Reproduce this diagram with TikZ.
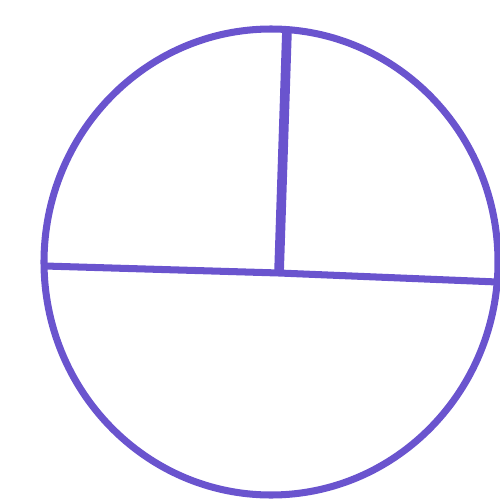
\documentclass[tikz,border=0pt]{standalone}
\usepackage{tikz}
\definecolor{pen}{RGB}{106,84,206}
\begin{document}
\begin{tikzpicture}[
            rim/.style={draw=pen, line width=4pt},
            cut/.style={draw=pen, line width=4pt, line cap=round},
            spoke/.style={draw=pen, line width=5.5pt}
        ]
        \useasboundingbox (0,0) rectangle (10,9.98);

        \coordinate (c) at (5.42,4.74);
        \coordinate (west) at (0.9,4.66);
        \coordinate (east) at (9.95,4.34);
        \coordinate (mid) at (5.58,4.52);
        \coordinate (top) at (5.74,9.38);

        \draw[rim] (c) ellipse [x radius=4.54, y radius=4.66];
        \draw[cut] (west) -- (mid) -- (east);
        \draw[spoke] (top) -- (mid);
    \end{tikzpicture}
\end{document}
